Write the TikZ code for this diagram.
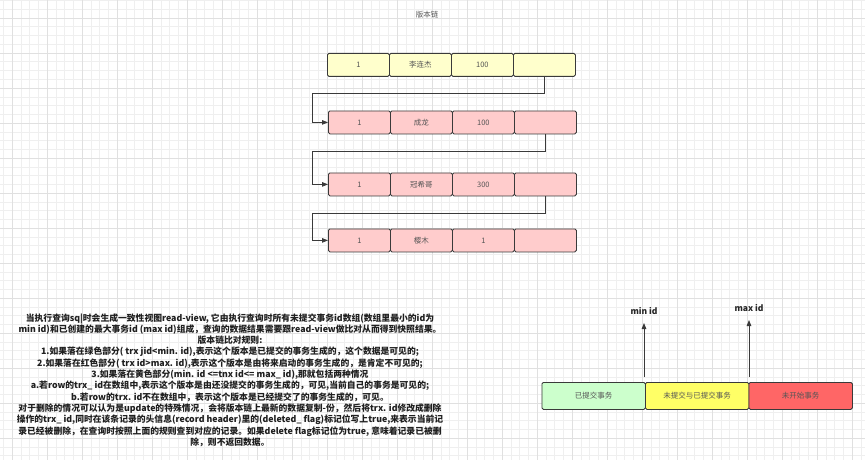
\documentclass[tikz,border=0pt]{standalone}
\usepackage{fontspec}
\setmainfont{Noto Sans CJK SC}
\usetikzlibrary{arrows.meta}
\definecolor{gridminor}{HTML}{EFEFEF}
\definecolor{gridmajor}{HTML}{E0E0E0}
\definecolor{edge}{HTML}{3A3A3A}
\definecolor{celltext}{HTML}{555555}
\definecolor{rowy}{HTML}{FFFFCC}
\definecolor{rowp}{HTML}{FFCCCC}
\definecolor{bgreen}{HTML}{CCFFCC}
\definecolor{byellow}{HTML}{FFFF66}
\definecolor{bred}{HTML}{FF6666}
\begin{document}
\begin{tikzpicture}[x=1pt,y=-1pt,
  cell/.style={draw=edge, line width=0.8pt, rounded corners=1.5pt, minimum width=62pt, minimum height=23pt, inner sep=0pt, anchor=north west, font=\fontsize{7.5}{8}\selectfont, text=celltext},
  bar/.style={draw=edge, line width=0.8pt, rounded corners=1.5pt, minimum width=103.5pt, minimum height=27pt, inner sep=0pt, anchor=north west, font=\fontsize{7.5}{8}\selectfont, text=celltext},
  conn/.style={draw=edge, line width=0.8pt, -{Triangle[length=6pt,width=4.5pt]}},
  lbl/.style={font=\bfseries\fontsize{8.5}{9}\selectfont, text=black!85, inner sep=0pt}]
\fill[white] (0,0) rectangle (865,460);
\useasboundingbox (0,0) rectangle (865,460);
% grid
\foreach \i in {0,...,99} {
  \draw[gridminor, line width=0.5pt] ({3.25+8.75*\i},0) -- ({3.25+8.75*\i},460);
}
\foreach \i in {0,...,53} {
  \draw[gridminor, line width=0.5pt] (0,{0.5+8.75*\i}) -- (865,{0.5+8.75*\i});
}
\foreach \i in {0,...,24} {
  \draw[gridmajor, line width=0.6pt] ({12+35*\i},0) -- ({12+35*\i},460);
}
\foreach \i in {0,...,13} {
  \draw[gridmajor, line width=0.6pt] (0,{18+35*\i}) -- (865,{18+35*\i});
}
% title
\node[font=\fontsize{7.5}{8}\selectfont, text=celltext] (title) at (427,15) {版本链};
% rows
\node[cell, fill=rowy] (r1c1) at (327,53) {1};
\node[cell, fill=rowy] (r1c2) at (389,53) {李连杰};
\node[cell, fill=rowy] (r1c3) at (451,53) {100};
\node[cell, fill=rowy] (r1c4) at (513,53) {};
\node[cell, fill=rowp] (r2c1) at (328,110.5) {1};
\node[cell, fill=rowp] (r2c2) at (390,110.5) {成龙};
\node[cell, fill=rowp] (r2c3) at (452,110.5) {100};
\node[cell, fill=rowp] (r2c4) at (514,110.5) {};
\node[cell, fill=rowp] (r3c1) at (328,172.5) {1};
\node[cell, fill=rowp] (r3c2) at (390,172.5) {冠希哥};
\node[cell, fill=rowp] (r3c3) at (452,172.5) {300};
\node[cell, fill=rowp] (r3c4) at (514,172.5) {};
\node[cell, fill=rowp] (r4c1) at (328,228.5) {1};
\node[cell, fill=rowp] (r4c2) at (390,228.5) {樱木};
\node[cell, fill=rowp] (r4c3) at (452,228.5) {1};
\node[cell, fill=rowp] (r4c4) at (514,228.5) {};
% connectors
\coordinate (k1) at (312,93);
\coordinate (k2) at (312,151);
\coordinate (k3) at (312,213);
\draw[conn] (r1c4.south) |- (k1) |- (r2c1.west);
\draw[conn] (r2c4.south) |- (k2) |- (r3c1.west);
\draw[conn] (r3c4.south) |- (k3) |- (r4c1.west);
% bottom bar
\node[bar, fill=bgreen] (bg) at (541.5,382) {已提交事务};
\node[bar, fill=byellow] (by) at (645,382) {未提交与已提交事务};
\node[bar, fill=bred] (br) at (748.5,382) {未开始事务};
\node[lbl] (minl) at (644,311) {min id};
\node[lbl] (maxl) at (749,308) {max id};
\coordinate (a1s) at (644,377);
\coordinate (a1e) at (644,323);
\coordinate (a2s) at (749,377);
\coordinate (a2e) at (749,320);
\draw[conn] (a1s) -- (a1e);
\draw[conn] (a2s) -- (a2e);
% text block
\node[align=center, inner sep=0pt, text=black!88, font=\bfseries\fontsize{8.8}{11.3}\selectfont] (desc) at (230,380) {%
当执行查询sq|时会生成一致性视图read-view, 它由执行查询时所有未提交事务id数组(数组里最小的id为\\
min id)和已创建的最大事务id (max id)组成，查询的数据结果需要跟read-view做比对从而得到快照结果。\\
版本链比对规则:\\
1.如果落在绿色部分( trx jid<min. id),表示这个版本是已提交的事务生成的，这个数据是可见的;\\
2.如果落在红色部分( trx id>max. id),表示这个版本是由将来启动的事务生成的，是肯定不可见的;\\
3.如果落在黄色部分(min. id <=tnx id<= max\_ id),那就包括两种情况\\
a.若row的trx\_ id在数组中,表示这个版本是由还没提交的事务生成的，可见,当前自己的事务是可见的;\\
b.若row的trx. id不在数组中，表示这个版本是已经提交了的事务生成的，可见。\\
对于删除的情况可以认为是update的特殊情况，会将版本链上最新的数据复制-份，然后将trx. id修改成删除\\
操作的trx\_ id,同时在该条记录的头信息(record header)里的(deleted\_ flag)标记位写上true,来表示当前记\\
录已经被删除，在查询时按照上面的规则查到对应的记录。如果delete flag标记位为true, 意味着记录已被删\\
除，则不返回数据。};
\end{tikzpicture}
\end{document}
